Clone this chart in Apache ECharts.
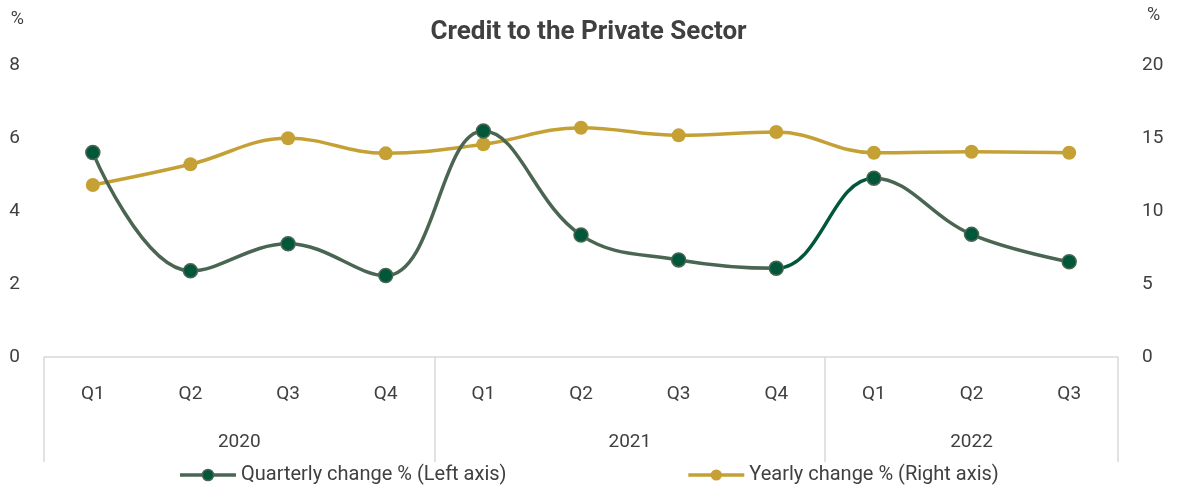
<!DOCTYPE html>
<html>
<head>
<meta charset="utf-8">
<script src="https://cdn.jsdelivr.net/npm/echarts@6/dist/echarts.min.js"></script>
<style>
  html, body { margin: 0; padding: 0; background: #fff; }
  #chart { width: 1177px; height: 492px; }
</style>
</head>
<body>
<div id="chart"></div>
<script>
// Quarter labels, the year each quarter belongs to, and the two series
const quarters = ['Q1', 'Q2', 'Q3', 'Q4', 'Q1', 'Q2', 'Q3', 'Q4', 'Q1', 'Q2', 'Q3'];
const quarterYears = ['2020', '2020', '2020', '2020', '2021', '2021', '2021', '2021', '2022', '2022', '2022'];
const quarterlyChange = [5.60, 2.36, 3.10, 2.23, 6.19, 3.34, 2.66, 2.43, 4.90, 3.36, 2.61];
const yearlyChange = [11.78, 13.20, 14.98, 13.95, 14.57, 15.70, 15.18, 15.41, 13.99, 14.06, 13.99];
const leftTicks = [0, 2, 4, 6, 8];
const rightTicks = [0, 5, 10, 15, 20];

const TEXT = '#404040';
const GRID_LINE = '#d9d9d9';
const GREY_GREEN = '#4a6652';
const DARK_GREEN = '#00573a';
const GOLD = '#c5a135';
const FONT = 'Roboto';
const LABEL_SIZE = 19;

// Year groups: boundaries and centres measured in category bands
const years = [];
quarterYears.forEach((y, i) => {
  const last = years[years.length - 1];
  if (last && last.year === y) last.end = i + 1;
  else years.push({ year: y, start: i, end: i + 1 });
});
const yearBounds = [0].concat(years.map(g => g.end));
const yearCenters = years.map(g => (g.start + g.end) / 2);

// Segment drawn in dark green: Q4 2021 -> Q1 2022
const highlightFrom = 7, highlightTo = 8;

const chart = echarts.init(document.getElementById('chart'));
chart.setOption({
  animation: false,
  textStyle: { fontFamily: FONT },
  title: {
    text: 'Credit to the Private Sector',
    left: 'center',
    top: 14,
    textStyle: { fontFamily: FONT, fontSize: 26, fontWeight: 'bold', color: TEXT }
  },
  grid: { left: 44, right: 59, top: 65, bottom: 135, containLabel: false },
  legend: {
    bottom: 2,
    left: 'center',
    itemWidth: 56,
    itemHeight: 14,
    itemGap: 180,
    textStyle: { fontFamily: FONT, fontSize: 20, color: TEXT },
    data: [
      {
        name: 'Quarterly change % (Left axis)',
        itemStyle: { color: DARK_GREEN, borderColor: GREY_GREEN, borderWidth: 1.5 },
        lineStyle: { color: GREY_GREEN, width: 3.5 }
      },
      {
        name: 'Yearly change % (Right axis)',
        itemStyle: { color: GOLD },
        lineStyle: { color: GOLD, width: 3.5 }
      }
    ]
  },
  visualMap: {
    show: false,
    type: 'piecewise',
    seriesIndex: 0,
    dimension: 0,
    pieces: [{ gte: highlightFrom, lte: highlightTo, color: DARK_GREEN }],
    outOfRange: { color: GREY_GREEN }
  },
  xAxis: [
    {
      type: 'category',
      data: quarters,
      boundaryGap: true,
      axisLine: { show: true, lineStyle: { color: GRID_LINE, width: 1.5 } },
      axisTick: { show: false },
      axisLabel: { color: TEXT, fontSize: LABEL_SIZE, margin: 28, interval: 0 },
      splitLine: { show: false }
    },
    {
      type: 'value',
      position: 'bottom',
      min: 0,
      max: quarters.length,
      axisLine: { show: false },
      splitLine: { show: false },
      axisTick: {
        show: true,
        customValues: yearBounds,
        length: 105,
        lineStyle: { color: GRID_LINE, width: 1.5 }
      },
      axisLabel: {
        customValues: yearCenters,
        margin: 76,
        color: TEXT,
        fontSize: LABEL_SIZE,
        formatter: v => {
          const g = years.find(g => (g.start + g.end) / 2 === v);
          return g ? g.year : '';
        }
      }
    }
  ],
  yAxis: [
    {
      type: 'value',
      min: leftTicks[0],
      max: leftTicks[leftTicks.length - 1],
      interval: leftTicks[1] - leftTicks[0],
      name: '%',
      nameLocation: 'end',
      nameGap: 37,
      nameTextStyle: { color: TEXT, fontSize: 18, align: 'right', padding: [0, 20, 0, 0] },
      axisLine: { show: false },
      axisTick: { show: false },
      splitLine: { show: false },
      axisLabel: { color: TEXT, fontSize: LABEL_SIZE, margin: 24 }
    },
    {
      type: 'value',
      min: rightTicks[0],
      max: rightTicks[rightTicks.length - 1],
      interval: rightTicks[1] - rightTicks[0],
      name: '%',
      nameLocation: 'end',
      nameGap: 41,
      nameTextStyle: { color: TEXT, fontSize: 18, align: 'left', padding: [0, 0, 0, 29] },
      axisLine: { show: false },
      axisTick: { show: false },
      splitLine: { show: false },
      axisLabel: { color: TEXT, fontSize: LABEL_SIZE, margin: 24 }
    }
  ],
  series: [
    {
      name: 'Quarterly change % (Left axis)',
      type: 'line',
      xAxisIndex: 0,
      yAxisIndex: 0,
      smooth: 0.4,
      symbol: 'circle',
      symbolSize: 14,
      z: 3,
      lineStyle: { width: 3.5 },
      data: quarterlyChange.map(v => ({
        value: v,
        itemStyle: { color: DARK_GREEN, borderColor: GREY_GREEN, borderWidth: 1.5 }
      }))
    },
    {
      name: 'Yearly change % (Right axis)',
      type: 'line',
      xAxisIndex: 0,
      yAxisIndex: 1,
      smooth: 0.4,
      symbol: 'circle',
      symbolSize: 14,
      z: 2,
      lineStyle: { width: 3.5, color: GOLD },
      itemStyle: { color: GOLD },
      data: yearlyChange
    }
  ]
});
</script>
</body>
</html>
